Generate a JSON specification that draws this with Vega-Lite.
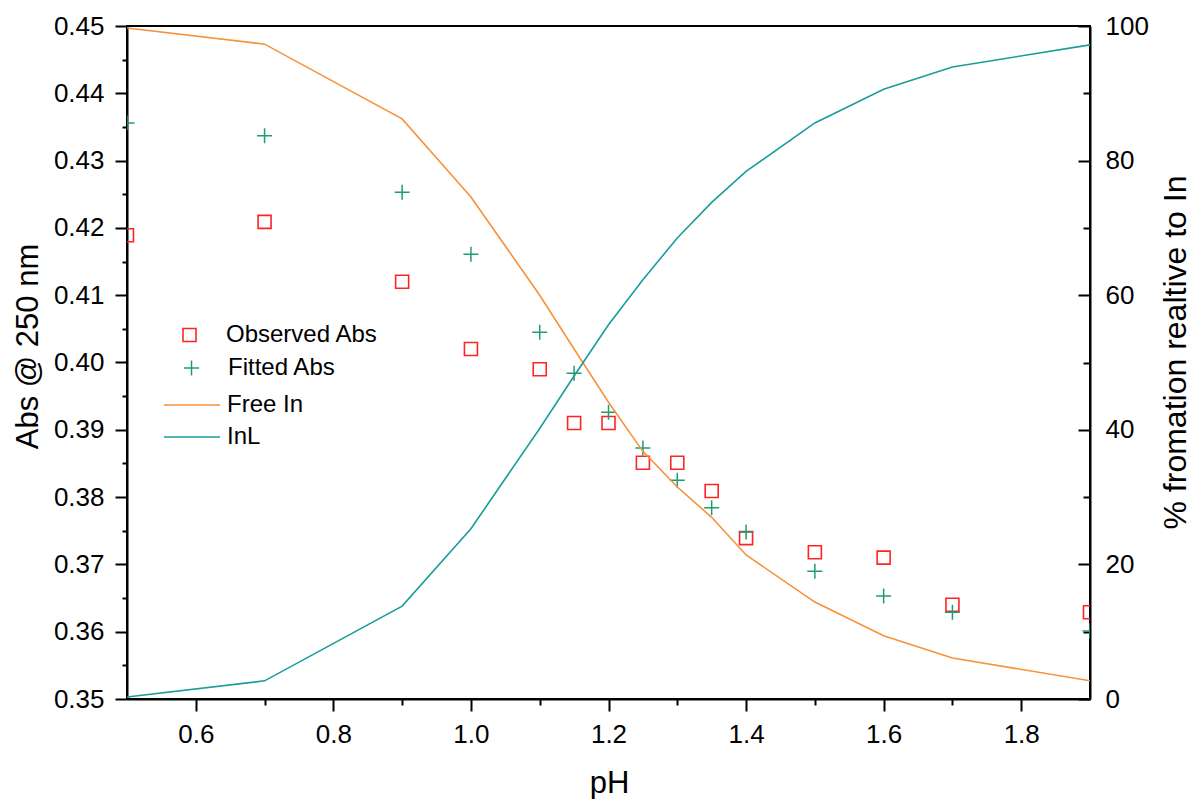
{
  "$schema": "https://vega.github.io/schema/vega-lite/v6.json",
  "width": 963,
  "height": 673,
  "autosize": {"type": "none"},
  "padding": {"left": 127, "top": 26, "right": 105, "bottom": 100},
  "background": "white",
  "config": {
    "font": "Liberation Sans",
    "view": {"stroke": "black", "strokeWidth": 2},
    "axis": {
      "domainColor": "black", "domainWidth": 2, "tickColor": "black", "tickWidth": 2,
      "labelColor": "black", "titleColor": "black", "labelFont": "Liberation Sans", "titleFont": "Liberation Sans",
      "labelFontSize": 26, "titleFontSize": 31, "titleFontWeight": "normal", "grid": false,
      "labelFlush": false, "labelOverlap": false
    },
    "legend": {"labelFont": "Liberation Sans", "labelFontSize": 24, "labelColor": "black", "padding": 0, "symbolOffset": 0}
  },
  "data": {
    "values": [
      {"pH": 0.5, "obs": 0.4189, "fit": 0.4356, "free": 99.7, "inl": 0.3},
      {"pH": 0.7, "obs": 0.4209, "fit": 0.4337, "free": 97.3, "inl": 2.7},
      {"pH": 0.9, "obs": 0.4120, "fit": 0.4253, "free": 86.2, "inl": 13.8},
      {"pH": 1.0, "obs": 0.4020, "fit": 0.4161, "free": 74.6, "inl": 25.3},
      {"pH": 1.1, "obs": 0.3990, "fit": 0.4045, "free": 60.0, "inl": 40.2},
      {"pH": 1.15, "obs": 0.3910, "fit": 0.3984, "free": 52.0, "inl": 48.0},
      {"pH": 1.2, "obs": 0.3910, "fit": 0.3926, "free": 44.1, "inl": 55.6},
      {"pH": 1.25, "obs": 0.3851, "fit": 0.3873, "free": 36.8, "inl": 62.3},
      {"pH": 1.3, "obs": 0.3851, "fit": 0.3825, "free": 31.5, "inl": 68.5},
      {"pH": 1.35, "obs": 0.3809, "fit": 0.3784, "free": 27.0, "inl": 73.8},
      {"pH": 1.4, "obs": 0.3739, "fit": 0.3748, "free": 21.4, "inl": 78.4},
      {"pH": 1.5, "obs": 0.3718, "fit": 0.3690, "free": 14.4, "inl": 85.6},
      {"pH": 1.6, "obs": 0.3710, "fit": 0.3653, "free": 9.4, "inl": 90.6},
      {"pH": 1.7, "obs": 0.3640, "fit": 0.3629, "free": 6.1, "inl": 93.9},
      {"pH": 1.9, "obs": 0.3629, "fit": 0.3601, "free": 2.7, "inl": 97.2}
    ]
  },
  "layer": [
    {
      "mark": {"type": "point", "shape": "square", "filled": false, "size": 169, "strokeWidth": 1.6, "clip": true, "opacity": 1},
      "encoding": {
        "x": {"field": "pH", "type": "quantitative",
          "scale": {"domain": [0.5, 1.9], "nice": false, "zero": false},
          "axis": {"orient": "bottom", "values": [0.6, 0.8, 1.0, 1.2, 1.4, 1.6, 1.8], "format": ".1f", "tickSize": 12, "labelPadding": 10,
            "title": "pH", "titleX": 482, "titleY": 93, "titleBaseline": "alphabetic"}},
        "y": {"field": "obs", "type": "quantitative",
          "scale": {"domain": [0.35, 0.45], "nice": false, "zero": false},
          "axis": {"orient": "left", "values": [0.35, 0.36, 0.37, 0.38, 0.39, 0.40, 0.41, 0.42, 0.43, 0.44, 0.45], "format": ".2f",
            "tickSize": 12, "labelPadding": 11, "title": "Abs @ 250 nm", "titleX": -99, "titleY": 320, "titleBaseline": "middle", "titleAngle": -90}},
        "color": {"datum": "Observed Abs", "type": "nominal", "scale": {"range": ["#ff2424"]},
          "legend": {"orient": "none", "legendX": 50.5, "legendY": 297, "title": null, "symbolType": "square", "symbolSize": 169,
            "symbolStrokeWidth": 1.6, "symbolFillColor": "transparent", "labelOffset": 24.5}}
      }
    },
    {
      "mark": {"type": "point", "shape": "M-1,0L1,0M0,-1L0,1", "filled": false, "size": 225, "strokeWidth": 1.5, "clip": true, "opacity": 1},
      "encoding": {
        "x": {"field": "pH", "type": "quantitative",
          "scale": {"domain": [0.5, 1.9], "nice": false, "zero": false},
          "axis": {"orient": "bottom", "values": [0.7, 0.9, 1.1, 1.3, 1.5, 1.7], "tickSize": 6, "labels": false, "domain": false, "title": null}},
        "y": {"field": "fit", "type": "quantitative",
          "scale": {"domain": [0.35, 0.45], "nice": false, "zero": false},
          "axis": {"orient": "left", "values": [0.355, 0.365, 0.375, 0.385, 0.395, 0.405, 0.415, 0.425, 0.435, 0.445],
            "tickSize": 5, "labels": false, "domain": false, "title": null}},
        "color": {"datum": "Fitted Abs", "type": "nominal", "scale": {"range": ["#1f9c70"]},
          "legend": {"orient": "none", "legendX": 52.5, "legendY": 330, "title": null, "symbolType": "M-1,0L1,0M0,-1L0,1", "symbolSize": 225,
            "symbolStrokeWidth": 1.5, "symbolFillColor": "transparent", "labelOffset": 24.5}}
      }
    },
    {
      "mark": {"type": "line", "strokeWidth": 1.6, "clip": true},
      "encoding": {
        "x": {"field": "pH", "type": "quantitative", "scale": {"domain": [0.5, 1.9], "nice": false, "zero": false}, "axis": null},
        "y": {"field": "free", "type": "quantitative",
          "scale": {"domain": [0, 100], "nice": false, "zero": false},
          "axis": {"orient": "right", "values": [0, 20, 40, 60, 80, 100], "format": "d", "tickSize": -12, "labelPadding": 27,
            "title": "% fromation realtive to In", "titleFontSize": 32, "titleAngle": -90, "titleX": 85, "titleY": 326, "titleBaseline": "middle"}},
        "color": {"datum": "Free In", "type": "nominal", "scale": {"range": ["#f7923a"]},
          "legend": {"orient": "none", "legendX": 36, "legendY": 350, "title": null, "symbolType": "stroke", "symbolSize": 3136,
            "symbolStrokeWidth": 1.6, "labelOffset": 6}}
      }
    },
    {
      "mark": {"type": "line", "strokeWidth": 1.6, "clip": true},
      "encoding": {
        "x": {"field": "pH", "type": "quantitative", "scale": {"domain": [0.5, 1.9], "nice": false, "zero": false}, "axis": null},
        "y": {"field": "inl", "type": "quantitative",
          "scale": {"domain": [0, 100], "nice": false, "zero": false},
          "axis": {"orient": "right", "values": [10, 30, 50, 70, 90], "tickSize": -7, "labels": false, "domain": false, "title": null}},
        "color": {"datum": "InL", "type": "nominal", "scale": {"range": ["#1a9c9a"]},
          "legend": {"orient": "none", "legendX": 36, "legendY": 382, "title": null, "symbolType": "stroke", "symbolSize": 3136,
            "symbolStrokeWidth": 1.6, "labelOffset": 6}}
      }
    }
  ],
  "resolve": {
    "scale": {"y": "independent", "color": "independent"},
    "axis": {"x": "independent", "y": "independent"},
    "legend": {"color": "independent"}
  }
}
